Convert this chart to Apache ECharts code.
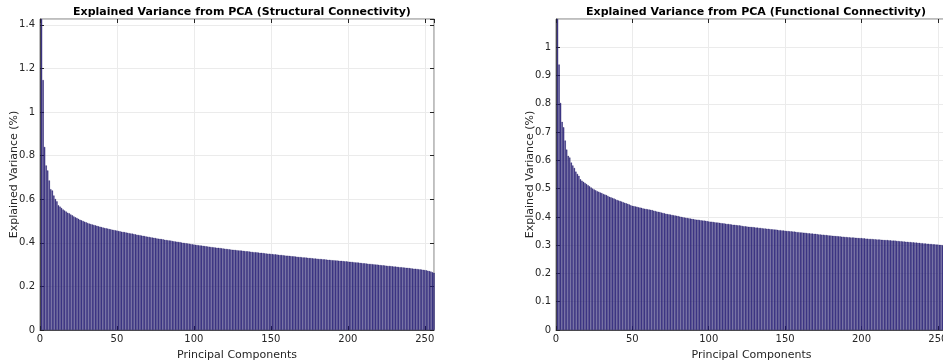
<!DOCTYPE html>
<html>
<head>
<meta charset="utf-8">
<script src="https://cdn.jsdelivr.net/npm/echarts@6/dist/echarts.min.js"></script>
<style>
  html, body { margin: 0; padding: 0; background: #fff; }
  #chart { width: 943px; height: 362px; }
</style>
</head>
<body>
<div id="chart"></div>
<script>
// Explained variance (%) of each principal component, structural connectivity
const structuralVariance = [
  1.427, 1.147, 0.840, 0.755, 0.732, 0.686, 0.646, 0.640, 0.617, 0.601,
  0.590, 0.572, 0.566, 0.560, 0.553, 0.548, 0.543, 0.538, 0.535, 0.530,
  0.526, 0.521, 0.517, 0.514, 0.510, 0.506, 0.503, 0.500, 0.497, 0.494,
  0.491, 0.488, 0.486, 0.484, 0.482, 0.480, 0.478, 0.476, 0.474, 0.472,
  0.470, 0.468, 0.467, 0.465, 0.463, 0.462, 0.460, 0.459, 0.457, 0.456,
  0.454, 0.453, 0.451, 0.450, 0.449, 0.447, 0.446, 0.444, 0.443, 0.442,
  0.440, 0.439, 0.437, 0.436, 0.435, 0.433, 0.432, 0.431, 0.429, 0.428,
  0.427, 0.425, 0.424, 0.423, 0.422, 0.420, 0.419, 0.418, 0.417, 0.416,
  0.414, 0.413, 0.412, 0.411, 0.410, 0.408, 0.407, 0.406, 0.405, 0.404,
  0.403, 0.401, 0.400, 0.399, 0.398, 0.397, 0.396, 0.394, 0.393, 0.392,
  0.391, 0.390, 0.389, 0.388, 0.387, 0.386, 0.385, 0.384, 0.383, 0.382,
  0.381, 0.380, 0.379, 0.378, 0.377, 0.377, 0.376, 0.375, 0.374, 0.373,
  0.372, 0.371, 0.370, 0.369, 0.368, 0.368, 0.367, 0.366, 0.365, 0.365,
  0.364, 0.363, 0.362, 0.361, 0.361, 0.360, 0.359, 0.358, 0.357, 0.357,
  0.356, 0.355, 0.354, 0.354, 0.353, 0.352, 0.351, 0.350, 0.350, 0.349,
  0.348, 0.347, 0.347, 0.346, 0.345, 0.344, 0.344, 0.343, 0.342, 0.341,
  0.341, 0.340, 0.339, 0.338, 0.338, 0.337, 0.336, 0.335, 0.335, 0.334,
  0.333, 0.333, 0.332, 0.331, 0.330, 0.330, 0.329, 0.328, 0.328, 0.327,
  0.326, 0.326, 0.325, 0.324, 0.324, 0.323, 0.322, 0.322, 0.321, 0.320,
  0.320, 0.319, 0.319, 0.318, 0.317, 0.317, 0.316, 0.315, 0.315, 0.314,
  0.313, 0.313, 0.312, 0.311, 0.310, 0.310, 0.309, 0.308, 0.307, 0.306,
  0.306, 0.305, 0.304, 0.303, 0.303, 0.302, 0.301, 0.300, 0.300, 0.299,
  0.298, 0.297, 0.297, 0.296, 0.295, 0.294, 0.294, 0.293, 0.292, 0.291,
  0.291, 0.290, 0.289, 0.288, 0.288, 0.287, 0.286, 0.285, 0.285, 0.284,
  0.283, 0.282, 0.281, 0.281, 0.280, 0.279, 0.278, 0.277, 0.276, 0.275,
  0.274, 0.272, 0.270, 0.268, 0.265, 0.262
];

// Explained variance (%) of each principal component, functional connectivity
const functionalVariance = [
  1.100, 0.939, 0.803, 0.736, 0.717, 0.670, 0.638, 0.616, 0.610, 0.592,
  0.582, 0.573, 0.560, 0.552, 0.545, 0.533, 0.528, 0.524, 0.520, 0.516,
  0.512, 0.508, 0.504, 0.500, 0.497, 0.494, 0.491, 0.489, 0.486, 0.484,
  0.481, 0.479, 0.477, 0.474, 0.471, 0.469, 0.467, 0.465, 0.462, 0.460,
  0.458, 0.456, 0.454, 0.452, 0.450, 0.448, 0.446, 0.444, 0.441, 0.439,
  0.438, 0.437, 0.436, 0.434, 0.433, 0.432, 0.430, 0.429, 0.428, 0.427,
  0.426, 0.425, 0.424, 0.422, 0.421, 0.419, 0.418, 0.417, 0.415, 0.414,
  0.413, 0.411, 0.410, 0.409, 0.408, 0.407, 0.406, 0.405, 0.404, 0.403,
  0.401, 0.400, 0.399, 0.398, 0.397, 0.396, 0.395, 0.394, 0.393, 0.392,
  0.391, 0.390, 0.390, 0.389, 0.388, 0.387, 0.387, 0.386, 0.385, 0.384,
  0.383, 0.383, 0.382, 0.381, 0.380, 0.380, 0.379, 0.378, 0.377, 0.377,
  0.376, 0.375, 0.375, 0.374, 0.373, 0.372, 0.372, 0.371, 0.370, 0.370,
  0.369, 0.368, 0.367, 0.367, 0.366, 0.365, 0.365, 0.364, 0.364, 0.363,
  0.362, 0.362, 0.361, 0.361, 0.360, 0.359, 0.359, 0.358, 0.358, 0.357,
  0.356, 0.356, 0.355, 0.355, 0.354, 0.353, 0.353, 0.352, 0.352, 0.351,
  0.350, 0.350, 0.349, 0.349, 0.348, 0.348, 0.347, 0.346, 0.346, 0.345,
  0.345, 0.344, 0.344, 0.343, 0.342, 0.342, 0.341, 0.341, 0.340, 0.340,
  0.339, 0.338, 0.338, 0.337, 0.337, 0.336, 0.336, 0.335, 0.334, 0.334,
  0.333, 0.333, 0.332, 0.332, 0.331, 0.331, 0.330, 0.330, 0.329, 0.329,
  0.328, 0.328, 0.327, 0.327, 0.327, 0.326, 0.326, 0.325, 0.325, 0.325,
  0.324, 0.324, 0.323, 0.323, 0.322, 0.322, 0.322, 0.321, 0.321, 0.320,
  0.320, 0.320, 0.319, 0.319, 0.318, 0.318, 0.318, 0.317, 0.317, 0.316,
  0.316, 0.316, 0.315, 0.315, 0.314, 0.314, 0.313, 0.313, 0.312, 0.312,
  0.311, 0.311, 0.310, 0.310, 0.309, 0.309, 0.308, 0.308, 0.307, 0.307,
  0.306, 0.306, 0.305, 0.305, 0.304, 0.304, 0.303, 0.303, 0.302, 0.302,
  0.301, 0.301, 0.300, 0.300, 0.299, 0.299
];

const panelTitles = [
  'Explained Variance from PCA (Structural Connectivity)',
  'Explained Variance from PCA (Functional Connectivity)'
];
const xAxisName = 'Principal Components';
const yAxisName = 'Explained Variance (%)';
const xTickStep = 50;
const yTickSteps = [0.2, 0.1];

const FONT = 'DejaVu Sans';
const TEXT = '#262626';
const AXIS = '#262626';
const GRID = '#ebebeb';
const BAR = '#30278a';
const BAR_EDGE = '#1b155e';

const grids = [
  { left: 40, right: 509, top: 19, bottom: 32 },
  { left: 556, right: -4, top: 19, bottom: 32 }
];
const yMax = [structuralVariance[0], functionalVariance[0]];
const series = [structuralVariance, functionalVariance];

const option = {
  backgroundColor: '#ffffff',
  animation: false,
  title: panelTitles.map((t, i) => ({
    text: t,
    left: i === 0 ? 237 : 751,
    textAlign: 'center',
    top: 2,
    textStyle: { fontFamily: FONT, fontSize: 11, fontWeight: 'bold', color: '#000' }
  })),
  grid: grids.map(g => Object.assign({
    show: true, borderColor: AXIS, borderWidth: 0.6,
    containLabel: false, outerBoundsMode: 'none'
  }, g)),
  xAxis: [],
  yAxis: [],
  series: []
};

series.forEach((vals, i) => {
  // bottom axis with labels
  option.xAxis.push({
    type: 'value', gridIndex: i, min: 0, max: vals.length, interval: xTickStep,
    name: xAxisName, nameLocation: 'middle', nameGap: 20, nameMoveOverlap: false,
    nameTextStyle: { fontFamily: FONT, fontSize: 11, color: TEXT },
    axisLine: { show: true, onZero: false, lineStyle: { color: AXIS, width: 0.8 } },
    axisTick: { show: true, inside: true, length: 4, lineStyle: { color: AXIS } },
    axisLabel: { fontFamily: FONT, fontSize: 10, color: TEXT, margin: 4, showMaxLabel: false },
    splitLine: { show: true, lineStyle: { color: GRID, width: 1 } }
  });
  // top axis, ticks only
  option.xAxis.push({
    type: 'value', gridIndex: i, position: 'top', min: 0, max: vals.length, interval: xTickStep,
    axisLine: { show: true, onZero: false, lineStyle: { color: '#c8c8c8', width: 1 } },
    axisTick: { show: true, inside: true, length: 4, lineStyle: { color: AXIS } },
    axisLabel: { show: false }, splitLine: { show: false }
  });
  // left axis with labels
  option.yAxis.push({
    type: 'value', gridIndex: i, min: 0, max: yMax[i], interval: yTickSteps[i],
    name: yAxisName, nameLocation: 'middle', nameGap: 20, nameRotate: 90, nameMoveOverlap: false,
    nameTextStyle: { fontFamily: FONT, fontSize: 11, color: TEXT },
    axisLine: { show: true, onZero: false, lineStyle: { color: AXIS, width: 0.8 } },
    axisTick: { show: true, inside: true, length: 4, lineStyle: { color: AXIS } },
    axisLabel: { fontFamily: FONT, fontSize: 10, color: TEXT, margin: 5, showMaxLabel: false },
    splitLine: { show: true, lineStyle: { color: GRID, width: 1 } }
  });
  // right axis, ticks only
  option.yAxis.push({
    type: 'value', gridIndex: i, position: 'right', min: 0, max: yMax[i], interval: yTickSteps[i],
    axisLine: { show: true, onZero: false, lineStyle: { color: '#c8c8c8', width: 1 } },
    axisTick: { show: true, inside: true, length: 4, lineStyle: { color: AXIS } },
    axisLabel: { show: false }, splitLine: { show: false }
  });
  option.series.push({
    type: 'bar',
    xAxisIndex: i * 2,
    yAxisIndex: i * 2,
    barWidth: '80%',
    itemStyle: { color: BAR, borderColor: BAR_EDGE, borderWidth: 0.4 },
    data: vals.map((v, k) => [k + 1, v])
  });
});

const chart = echarts.init(document.getElementById('chart'), null, { renderer: 'canvas' });
chart.setOption(option);
</script>
</body>
</html>
